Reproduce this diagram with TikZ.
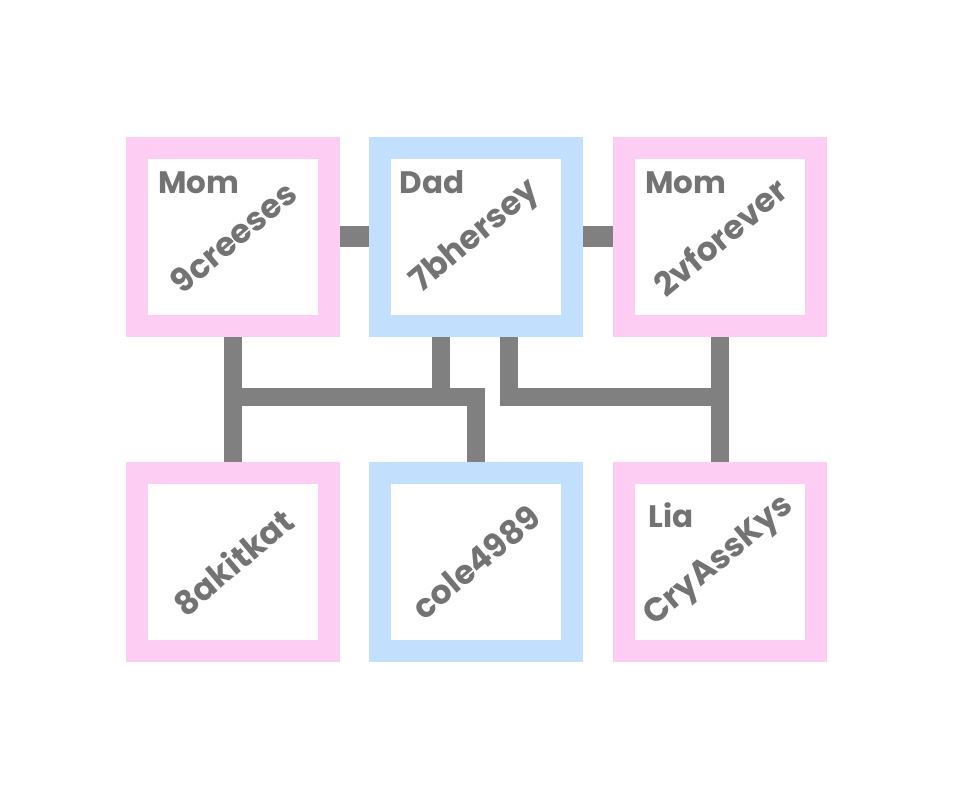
\documentclass[tikz,border=0pt]{standalone}
\usepackage{fontspec}
\setmainfont{Poppins}
\usetikzlibrary{calc,positioning}
\definecolor{MomPink}{RGB}{253,205,243}
\definecolor{DadBlue}{RGB}{194,224,253}
\definecolor{LinkGray}{RGB}{128,128,128}
\definecolor{NameGray}{RGB}{115,115,115}
\begin{document}
\begin{tikzpicture}[x=1pt,y=-1pt,
  member/.style={draw=#1,fill=white,line width=22pt,minimum width=192pt,minimum height=178pt,inner sep=0pt},
  link/.style={LinkGray,line width=18.5pt},
  tag/.style={NameGray,font=\fontsize{31}{31}\selectfont\bfseries,anchor=base west},
  user/.style={NameGray,font=\fontsize{33}{33}\selectfont\bfseries,rotate=40}]
\useasboundingbox (0,0) rectangle (953,799);
% the six members
\node[member=MomPink] (momA) at (233,237){};
\node[member=DadBlue] (dad) at (476,237){};
\node[member=MomPink] (momB) at (720,237){};
\node[member=MomPink] (kidA) at (233,562){};
\node[member=DadBlue] (kidB) at (476,562){};
\node[member=MomPink] (lia) at (720,562){};
% links
\coordinate (jA) at (441,397);\coordinate (jB) at (509,397);
\draw[link,line width=21pt] (momA)--(dad);\draw[link,line width=21pt] (dad)--(momB);
\draw[link] (momA)--(kidA);\draw[link] (momB)--(lia);
\draw[link] (momA |- jA) -| (kidB.north);
\draw[link] (dad.south -| jA)--(jA);
\draw[link] (dad.south -| jB) |- (momB |- jB);
% names
\node[tag] (momA-tag) at ($(momA.north west)+(29,57)$){Mom};
\node[tag] (dad-tag) at ($(dad.north west)+(27,57)$){Dad};
\node[tag] (momB-tag) at ($(momB.north west)+(29,57)$){Mom};
\node[tag] (lia-tag) at ($(lia.north west)+(32,65)$){Lia};
\node[user] (momA-user) at (momA){9creeses};
\node[user] (dad-user) at (dad){7bhersey};
\node[user] (momB-user) at (momB){2vforever};
\node[user] (kidA-user) at (kidA){8akitkat};
\node[user] (kidB-user) at (kidB){cole4989};
\node[user] (lia-user) at (lia){CryAssKys};
\end{tikzpicture}
\end{document}
